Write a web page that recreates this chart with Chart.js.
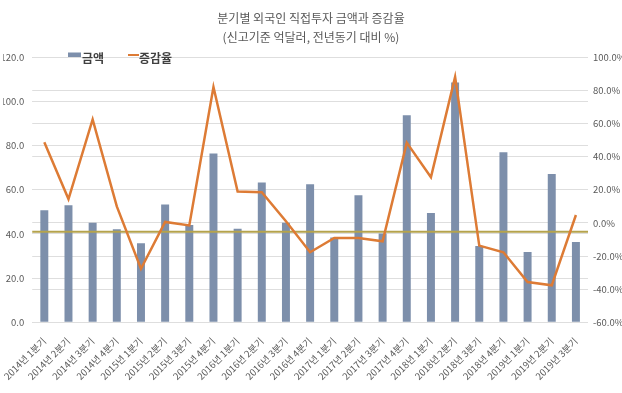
<!DOCTYPE html>
<html>
<head>
<meta charset="utf-8">
<script src="https://cdn.jsdelivr.net/npm/chart.js@4.4.0/dist/chart.umd.min.js"></script>
<style>
  body { margin: 0; background: #fff; }
</style>
</head>
<body>
<canvas id="myChart" width="622" height="393"></canvas>
<script>
// Get the data
const quarters = [
  "2014년 1분기", "2014년 2분기", "2014년 3분기", "2014년 4분기",
  "2015년 1분기", "2015년 2분기", "2015년 3분기", "2015년 4분기",
  "2016년 1분기", "2016년 2분기", "2016년 3분기", "2016년 4분기",
  "2017년 1분기", "2017년 2분기", "2017년 3분기", "2017년 4분기",
  "2018년 1분기", "2018년 2분기", "2018년 3분기", "2018년 4분기",
  "2019년 1분기", "2019년 2분기", "2019년 3분기",
];
// 금액 (억달러)
const amounts = [
  50.7, 53.0, 45.1, 42.1,
  35.8, 53.3, 44.1, 76.5,
  42.4, 63.3, 45.1, 62.5,
  38.4, 57.5, 40.2, 93.8,
  49.5, 108.6, 34.6, 77.0,
  31.8, 67.2, 36.4,
];
// 증감율 (%)
const changeRates = [
  48.7, 14.4, 62.5, 10.0,
  -27.7, 0.6, -1.5, 82.1,
  19.0, 18.6, 1.0, -17.7,
  -9.1, -9.1, -11.1, 48.5,
  27.6, 88.2, -13.7, -17.7,
  -35.7, -37.7, 4.8,
];
// horizontal reference line (left axis)
const refLineValue = 41;

const leftMin = 0, leftMax = 120, leftStep = 20;
const rightMin = -60, rightMax = 100, rightStep = 20;

const barColor = "#7d8fab";
const lineColor = "#dd7b35";
const refColor = "#b5a34c";
const gridColor = "#dedede";
const textColor = "#595959";
const fontFamily = "'Noto Sans CJK KR', 'Noto Sans', sans-serif";

// Draw the reference line right after the bars, under the orange line
const refLinePlugin = {
  id: "refLine",
  afterDatasetDraw(chart, args) {
    if (args.index !== 0) return;
    const { ctx, chartArea } = chart;
    const y = chart.scales.y.getPixelForValue(refLineValue);
    ctx.save();
    ctx.strokeStyle = refColor;
    ctx.lineWidth = 1.8;
    ctx.beginPath();
    ctx.moveTo(chartArea.left, y);
    ctx.lineTo(chartArea.right, y);
    ctx.stroke();
    ctx.restore();
  },
};

// Legend drawn over the top of the plot like the original
const legendPlugin = {
  id: "topLegend",
  afterDraw(chart) {
    const ctx = chart.ctx;
    const ds = chart.data.datasets;
    ctx.save();
    ctx.font = "bold 12px " + fontFamily;
    ctx.textBaseline = "middle";
    ctx.fillStyle = ds[0].backgroundColor;
    ctx.fillRect(68, 52.5, 13, 4.5);
    ctx.fillStyle = "#404040";
    ctx.fillText(ds[0].label, 82, 58.5);
    ctx.strokeStyle = ds[1].borderColor;
    ctx.lineWidth = 2;
    ctx.beginPath();
    ctx.moveTo(128, 55);
    ctx.lineTo(139, 55);
    ctx.stroke();
    ctx.fillText(ds[1].label, 139, 58.5);
    ctx.restore();
  },
};

const ctx = document.getElementById("myChart").getContext("2d");
const myChart = new Chart(ctx, {
  type: "bar",
  data: {
    labels: quarters,
    datasets: [
      {
        type: "bar",
        label: "금액",
        data: amounts,
        backgroundColor: barColor,
        barPercentage: 0.33,
        categoryPercentage: 1,
        yAxisID: "y",
        order: 2,
      },
      {
        type: "line",
        label: "증감율",
        data: changeRates,
        borderColor: lineColor,
        borderWidth: 2.5,
        pointRadius: 0,
        tension: 0,
        fill: false,
        yAxisID: "y1",
        order: 1,
      },
    ],
  },
  options: {
    responsive: false,
    animation: false,
    devicePixelRatio: 1,
    layout: { padding: { left: 0, right: 0, top: 0, bottom: 6 } },
    plugins: {
      legend: { display: false },
      tooltip: { enabled: false },
      title: {
        display: true,
        text: ["분기별 외국인 직접투자 금액과 증감율", "(신고기준 억달러, 전년동기 대비 %)"],
        color: textColor,
        font: { family: fontFamily, size: 12, weight: "normal", lineHeight: 1.6 },
        padding: { top: 9, bottom: 10 },
      },
    },
    scales: {
      x: {
        grid: { display: false },
        border: { display: false },
        ticks: {
          autoSkip: false,
          minRotation: 45,
          maxRotation: 45,
          color: textColor,
          font: { family: fontFamily, size: 9.5 },
          padding: 5,
        },
      },
      y: {
        position: "left",
        min: leftMin,
        max: leftMax,
        grid: { color: gridColor, drawTicks: false },
        border: { display: false },
        ticks: {
          stepSize: leftStep,
          color: textColor,
          font: { family: fontFamily, size: 9.5 },
          padding: 8,
          callback: (v) => v.toFixed(1),
        },
        afterFit: (scale) => { scale.width = 29; },
      },
      y1: {
        position: "right",
        min: rightMin,
        max: rightMax,
        grid: { color: gridColor, drawTicks: false },
        border: { display: false },
        ticks: {
          stepSize: rightStep,
          color: textColor,
          font: { family: fontFamily, size: 9.5 },
          padding: 5,
          callback: (v) => v.toFixed(1) + "%",
        },
        afterFit: (scale) => { scale.width = 34; },
      },
    },
  },
  plugins: [refLinePlugin, legendPlugin],
});
</script>
</body>
</html>
